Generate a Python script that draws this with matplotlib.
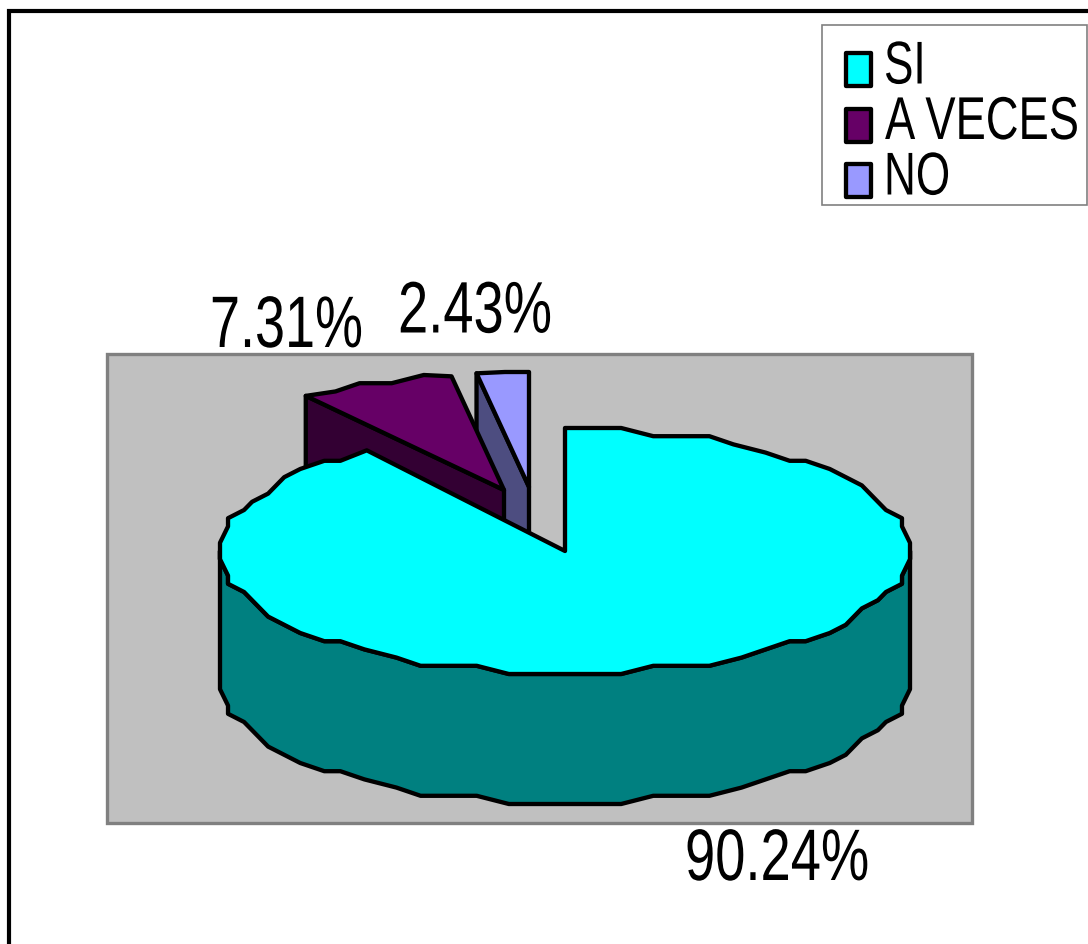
import matplotlib
matplotlib.use('Agg')
import matplotlib.pyplot as plt
import matplotlib.patheffects as pe
from matplotlib.patches import Polygon, Rectangle
from matplotlib.transforms import Affine2D
import numpy as np

labels = ['SI', 'A VECES', 'NO']
values = [90.24, 7.31, 2.43]
colors = ['#00FFFF', '#660066', '#9999FF']
side_colors = ['#008080', '#330033', '#4D4D80']

plt.rcParams['font.family'] = ['Liberation Sans', 'DejaVu Sans']

fig = plt.figure(figsize=(10.88, 9.44), dpi=100)
ax = fig.add_axes([0, 0, 1, 1])
ax.set_xlim(0, 1088)
ax.set_ylim(944, 0)
ax.axis('off')

lw = 3.1
depth = 130
step = 8   # the original has a jagged outline, low resolution export


class Narrow(pe.AbstractPathEffect):
    # squeeze text sideways, no narrow font installed
    def __init__(self, x0, sx):
        super().__init__()
        self.x0 = x0
        self.sx = sx

    def draw_path(self, renderer, gc, tpath, affine, rgbFace=None):
        squeeze = Affine2D().translate(-self.x0, 0).scale(self.sx, 1).translate(self.x0, 0)
        renderer.draw_path(gc, tpath, affine + squeeze, rgbFace)


def narrow_text(x, y, s, size, sx, ha='left'):
    ax.text(x, y, s, fontsize=size, va='baseline', ha=ha, zorder=12,
            path_effects=[Narrow(x, sx)])


def arc(cx, cy, rx, ry, a0, a1):
    # a0 to a1 in degrees, jagged in between but exact at the ends
    n = max(int(round(abs(a1 - a0) / 5)), 1)
    t = np.radians(np.linspace(a0, a1, n + 1))
    dx = rx * np.cos(t)
    dy = -ry * np.sin(t)
    sx = rx / round(rx / step)
    sy = ry / round(ry / step)
    dx[1:-1] = np.round(dx[1:-1] / sx) * sx
    dy[1:-1] = np.round(dy[1:-1] / sy) * sy
    return np.column_stack([cx + dx, cy + dy])


def poly(pts, color, z):
    ax.add_patch(Polygon(pts, closed=True, facecolor=color, edgecolor='black',
                         linewidth=lw, joinstyle='round', zorder=z))


# outer frame, only left and top show
ax.plot([8.7, 8.7, 1088], [944, 11, 11], color='black', lw=3.0, solid_joinstyle='miter', zorder=1)
ax.add_patch(Rectangle((107, 354), 865, 469, facecolor='#C0C0C0', edgecolor='#808080',
                       linewidth=2.4, zorder=2))

# slice angles from the values, clockwise from 12 o'clock
sweep = np.array(values) / sum(values) * 360
ends = 90 - np.cumsum(sweep)
starts = np.concatenate([[90], ends[:-1]])

# NO, exploded
cx, cy, rx, ry = 529, 487, 345, 115
p0 = arc(cx, cy, rx, ry, starts[2], ends[2])
tip = np.array([cx, cy])
poly([p0[0], tip, tip + [0, depth], p0[0] + [0, depth]], side_colors[2], 3)
poly(np.vstack([tip, p0]), colors[2], 4)

# A VECES, exploded
cx, cy = 504, 490
p1 = arc(cx, cy, rx, ry, starts[1], ends[1])
tip = np.array([cx, cy])
poly([p1[0], tip, tip + [0, depth], p1[0] + [0, depth]], side_colors[1], 5)
poly(np.vstack([tip, p1]), colors[1], 6)

# SI, the big one. side uses the front half of the same outline so no gaps
cx, cy, rx, ry = 565, 551, 345, 123
top = arc(cx, cy, rx, ry, starts[0], ends[0])
side_top = top[top[:, 1] >= cy]
side = np.vstack([side_top, (side_top + [0, depth])[::-1]])
poly(side, side_colors[0], 7)
poly(np.vstack([[cx, cy], top]), colors[0], 8)

text_size = 52.5
narrow_text(210, 347, f'{values[1]:.2f}%', text_size, 0.74)
narrow_text(398, 332.5, f'{values[2]:.2f}%', text_size, 0.745)
narrow_text(685, 880, f'{values[0]:.2f}%', text_size, 0.745)

# legend by hand, the squeezed labels would not fit a real legend box
ax.add_patch(Rectangle((822, 25), 265, 180, facecolor='white', edgecolor='#808080',
                       linewidth=1.2, zorder=10))
for i, (name, c) in enumerate(zip(labels, colors)):
    y0 = 53 + i * 55.5
    ax.add_patch(Rectangle((846, y0), 25, 33, facecolor=c, edgecolor='black',
                           linewidth=lw, joinstyle='round', zorder=11))
    if name == 'A VECES':
        # anchored right so the unsqueezed text box stays inside the figure
        narrow_text(1079, y0 + 30.5, name, 43.5, 0.75, ha='right')
    else:
        narrow_text(884, y0 + 30.5, name, 43.5, 0.73)

fig.savefig('out.png', dpi=100)
